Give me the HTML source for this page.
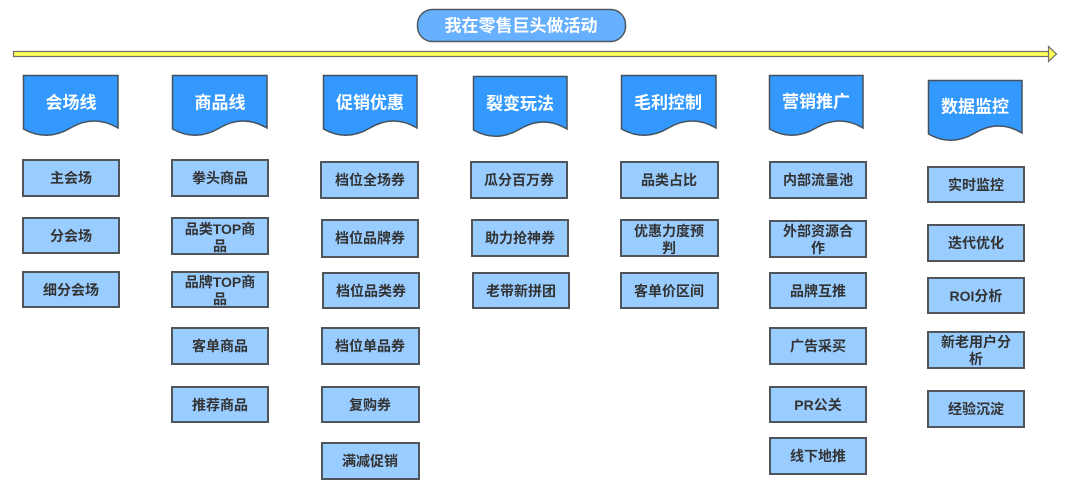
<!DOCTYPE html>
<html>
<head>
<meta charset="utf-8">
<style>
html,body{margin:0;padding:0;background:#fff;}
svg{display:block;}
text{font-family:"Liberation Sans","Noto Sans CJK SC","WenQuanYi Zen Hei",sans-serif;}
.hd{fill:#3399ff;stroke:#46515c;stroke-width:1.5;}
.hdt{fill:#fff;font-size:17px;font-weight:bold;}
.bx{fill:#99ccff;stroke:#50555b;stroke-width:2;}
.bt{fill:#333;font-size:14px;font-weight:bold;}
</style>
</head>
<body>
<svg width="1080" height="489" viewBox="0 0 1080 489" xmlns="http://www.w3.org/2000/svg">
  <!-- title pill -->
  <rect x="417.5" y="9.5" width="208" height="32" rx="15" ry="15" fill="#66b0ff" stroke="#4f5861" stroke-width="1.5"/>
  <text x="521" y="26" text-anchor="middle" dominant-baseline="central" class="hdt" style="font-size:17px">我在零售巨头做活动</text>

  <!-- arrow -->
  <rect x="13.5" y="51.5" width="1036" height="5" fill="#ffff55" stroke="#707070" stroke-width="1.2"/>
  <polygon points="1048.5,46.5 1056.5,54 1048.5,61.5" fill="#ffff55" stroke="#707070" stroke-width="1.2"/>

  <!-- headers -->
  <g>
    <path class="hd" d="M23.5,75.5 H118 V128 Q94,114 70.5,128 T23.5,129 Z"/>
    <text x="71" y="103" text-anchor="middle" dominant-baseline="central" class="hdt">会场线</text>

    <path class="hd" d="M172.5,75.5 H267 V128 Q243,114 219.5,128 T172.5,129 Z"/>
    <text x="220" y="103" text-anchor="middle" dominant-baseline="central" class="hdt">商品线</text>

    <path class="hd" d="M323.5,75.5 H417 V128 Q393.5,114 370,128 T323.5,129 Z"/>
    <text x="370" y="103" text-anchor="middle" dominant-baseline="central" class="hdt">促销优惠</text>

    <path class="hd" d="M473.5,76.5 H567 V129 Q543.5,115 520,129 T473.5,130 Z"/>
    <text x="520" y="104" text-anchor="middle" dominant-baseline="central" class="hdt">裂变玩法</text>

    <path class="hd" d="M621.5,75.5 H716 V128 Q692,114 668.5,128 T621.5,129 Z"/>
    <text x="668" y="103" text-anchor="middle" dominant-baseline="central" class="hdt">毛利控制</text>

    <path class="hd" d="M769.5,75.5 H863 V128 Q839.5,114 816,128 T769.5,129 Z"/>
    <text x="816" y="102" text-anchor="middle" dominant-baseline="central" class="hdt">营销推广</text>

    <path class="hd" d="M928.5,80.5 H1022 V133 Q998.5,119 975,133 T928.5,134 Z"/>
    <text x="975" y="107" text-anchor="middle" dominant-baseline="central" class="hdt">数据监控</text>
  </g>

  <!-- column 1 -->
  <rect class="bx" x="23" y="160" width="96" height="36"/>
  <text class="bt" x="71" y="178" text-anchor="middle" dominant-baseline="central">主会场</text>
  <rect class="bx" x="23" y="218" width="96" height="35"/>
  <text class="bt" x="71" y="236" text-anchor="middle" dominant-baseline="central">分会场</text>
  <rect class="bx" x="23" y="272" width="96" height="35"/>
  <text class="bt" x="71" y="290" text-anchor="middle" dominant-baseline="central">细分会场</text>

  <!-- column 2 -->
  <rect class="bx" x="172" y="160" width="96" height="36"/>
  <text class="bt" x="220" y="178" text-anchor="middle" dominant-baseline="central">拳头商品</text>
  <rect class="bx" x="172" y="218" width="96" height="36"/>
  <text class="bt" x="220" y="229" text-anchor="middle" dominant-baseline="central">品类TOP商</text>
  <text class="bt" x="220" y="246" text-anchor="middle" dominant-baseline="central">品</text>
  <rect class="bx" x="172" y="272" width="96" height="35"/>
  <text class="bt" x="220" y="282" text-anchor="middle" dominant-baseline="central">品牌TOP商</text>
  <text class="bt" x="220" y="299" text-anchor="middle" dominant-baseline="central">品</text>
  <rect class="bx" x="172" y="328" width="96" height="36"/>
  <text class="bt" x="220" y="346" text-anchor="middle" dominant-baseline="central">客单商品</text>
  <rect class="bx" x="172" y="387" width="96" height="35"/>
  <text class="bt" x="220" y="405" text-anchor="middle" dominant-baseline="central">推荐商品</text>

  <!-- column 3 -->
  <rect class="bx" x="321" y="162" width="97" height="36"/>
  <text class="bt" x="370" y="180" text-anchor="middle" dominant-baseline="central">档位全场券</text>
  <rect class="bx" x="322" y="220" width="96" height="37"/>
  <text class="bt" x="370" y="238" text-anchor="middle" dominant-baseline="central">档位品牌券</text>
  <rect class="bx" x="323" y="273" width="96" height="35"/>
  <text class="bt" x="371" y="291" text-anchor="middle" dominant-baseline="central">档位品类券</text>
  <rect class="bx" x="322" y="328" width="97" height="36"/>
  <text class="bt" x="370" y="346" text-anchor="middle" dominant-baseline="central">档位单品券</text>
  <rect class="bx" x="322" y="387" width="97" height="35"/>
  <text class="bt" x="370" y="405" text-anchor="middle" dominant-baseline="central">复购券</text>
  <rect class="bx" x="322" y="443" width="97" height="36"/>
  <text class="bt" x="370" y="461" text-anchor="middle" dominant-baseline="central">满减促销</text>

  <!-- column 4 -->
  <rect class="bx" x="471" y="162" width="96" height="36"/>
  <text class="bt" x="519" y="180" text-anchor="middle" dominant-baseline="central">瓜分百万券</text>
  <rect class="bx" x="472" y="220" width="96" height="36"/>
  <text class="bt" x="520" y="238" text-anchor="middle" dominant-baseline="central">助力抢神券</text>
  <rect class="bx" x="473" y="273" width="96" height="35"/>
  <text class="bt" x="521" y="291" text-anchor="middle" dominant-baseline="central">老带新拼团</text>

  <!-- column 5 -->
  <rect class="bx" x="621" y="162" width="97" height="36"/>
  <text class="bt" x="669" y="180" text-anchor="middle" dominant-baseline="central">品类占比</text>
  <rect class="bx" x="621" y="220" width="97" height="36"/>
  <text class="bt" x="669" y="231" text-anchor="middle" dominant-baseline="central">优惠力度预</text>
  <text class="bt" x="669" y="248" text-anchor="middle" dominant-baseline="central">判</text>
  <rect class="bx" x="621" y="273" width="97" height="35"/>
  <text class="bt" x="669" y="291" text-anchor="middle" dominant-baseline="central">客单价区间</text>

  <!-- column 6 -->
  <rect class="bx" x="770" y="162" width="96" height="36"/>
  <text class="bt" x="818" y="180" text-anchor="middle" dominant-baseline="central">内部流量池</text>
  <rect class="bx" x="770" y="221" width="96" height="36"/>
  <text class="bt" x="818" y="231" text-anchor="middle" dominant-baseline="central">外部资源合</text>
  <text class="bt" x="818" y="248" text-anchor="middle" dominant-baseline="central">作</text>
  <rect class="bx" x="770" y="273" width="96" height="35"/>
  <text class="bt" x="818" y="291" text-anchor="middle" dominant-baseline="central">品牌互推</text>
  <rect class="bx" x="770" y="328" width="96" height="36"/>
  <text class="bt" x="818" y="346" text-anchor="middle" dominant-baseline="central">广告采买</text>
  <rect class="bx" x="770" y="387" width="96" height="35"/>
  <text class="bt" x="818" y="405" text-anchor="middle" dominant-baseline="central">PR公关</text>
  <rect class="bx" x="770" y="438" width="96" height="36"/>
  <text class="bt" x="818" y="456" text-anchor="middle" dominant-baseline="central">线下地推</text>

  <!-- column 7 -->
  <rect class="bx" x="928" y="167" width="96" height="35"/>
  <text class="bt" x="976" y="185" text-anchor="middle" dominant-baseline="central">实时监控</text>
  <rect class="bx" x="928" y="225" width="96" height="36"/>
  <text class="bt" x="976" y="243" text-anchor="middle" dominant-baseline="central">迭代优化</text>
  <rect class="bx" x="928" y="278" width="96" height="35"/>
  <text class="bt" x="976" y="296" text-anchor="middle" dominant-baseline="central">ROI分析</text>
  <rect class="bx" x="928" y="332" width="96" height="36"/>
  <text class="bt" x="976" y="342" text-anchor="middle" dominant-baseline="central">新老用户分</text>
  <text class="bt" x="976" y="359" text-anchor="middle" dominant-baseline="central">析</text>
  <rect class="bx" x="928" y="391" width="96" height="36"/>
  <text class="bt" x="976" y="409" text-anchor="middle" dominant-baseline="central">经验沉淀</text>
</svg>
</body>
</html>
